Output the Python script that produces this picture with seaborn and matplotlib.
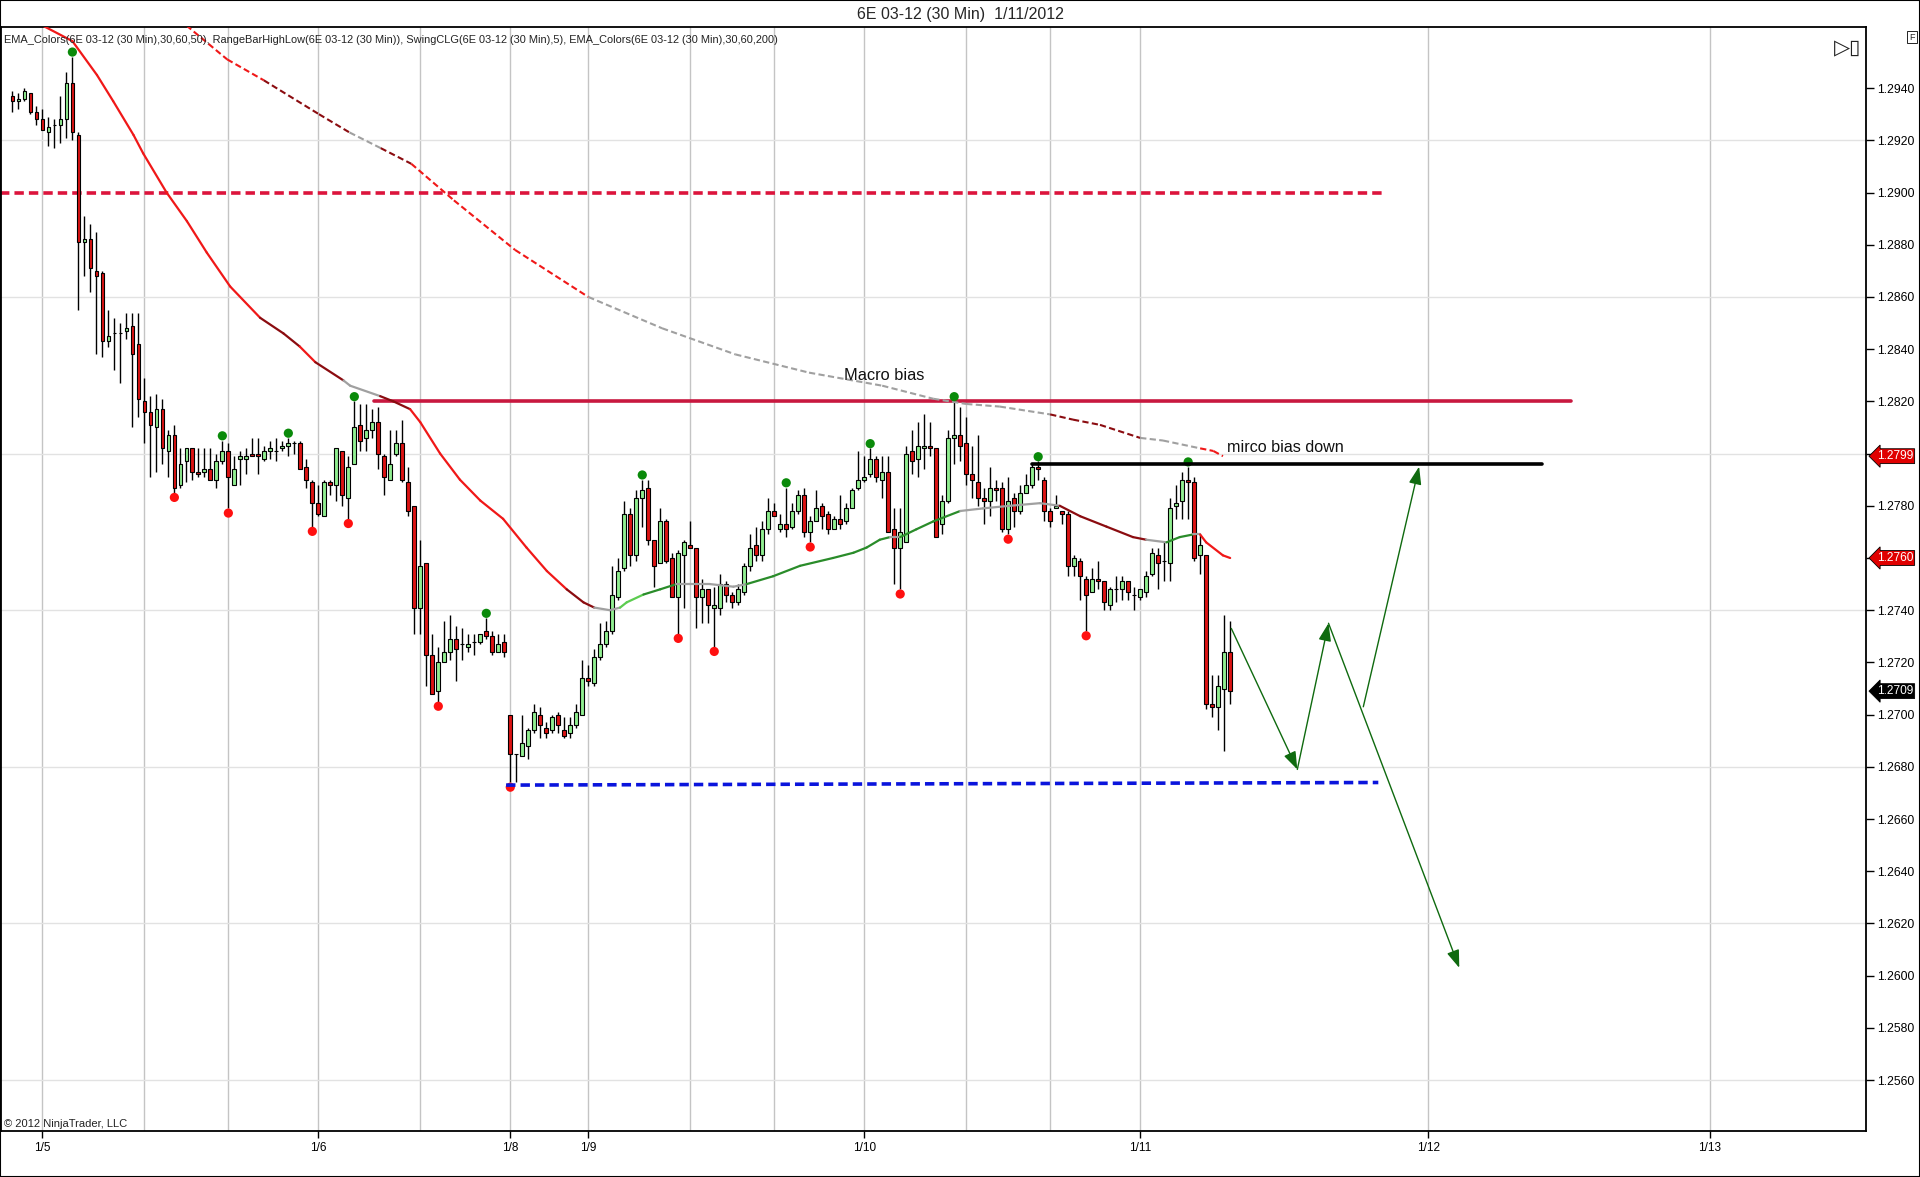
import numpy as np
import pandas as pd
import matplotlib
matplotlib.use("Agg")
import matplotlib.pyplot as plt
import matplotlib.transforms as mtransforms
from matplotlib.collections import LineCollection
import seaborn as sns

# ---- data -------------------------------------------------------------
# x = bar number, 0 = first 30 min bar of 1/5 (session bars only)
bar_idx = list(range(-5, 199))

opens = [
    1.2937, 1.2935, 1.2936, 1.2938, 1.2931, 1.2928, 1.2923, 1.2926, 1.2926, 1.2928,
    1.2942, 1.2922, 1.2881, 1.2882, 1.2870, 1.2869, 1.2843, 1.2846, 1.2846, 1.2847,
    1.2849, 1.2842, 1.2820, 1.2816, 1.2810, 1.2817, 1.2801, 1.2807, 1.2788, 1.2797,
    1.2802, 1.2793, 1.2793, 1.2794, 1.2790, 1.2797, 1.2801, 1.2788, 1.2798, 1.2798,
    1.2800, 1.2800, 1.2798, 1.2801, 1.2801, 1.2802, 1.2803, 1.2804, 1.2804, 1.2795,
    1.2789, 1.2781, 1.2776, 1.2789, 1.2788, 1.2801, 1.2783, 1.2796, 1.2811, 1.2806,
    1.2809, 1.2812, 1.2799, 1.2790, 1.2800, 1.2804, 1.2789, 1.2780, 1.2741, 1.2758,
    1.2723, 1.2709, 1.2720, 1.2724, 1.2729, 1.2727, 1.2726, 1.2728, 1.2728, 1.2732,
    1.2730, 1.2724, 1.2728, 1.2700, 1.2685, 1.2684, 1.2688, 1.2694, 1.2700, 1.2695,
    1.2694, 1.2700, 1.2694, 1.2693, 1.2696, 1.2700, 1.2714, 1.2712, 1.2722, 1.2727,
    1.2732, 1.2745, 1.2756, 1.2777, 1.2761, 1.2783, 1.2787, 1.2767, 1.2758, 1.2774,
    1.2760, 1.2745, 1.2761, 1.2765, 1.2764, 1.2745, 1.2748, 1.2741, 1.2741, 1.2750,
    1.2746, 1.2743, 1.2747, 1.2757, 1.2765, 1.2761, 1.2771, 1.2778, 1.2771, 1.2773,
    1.2772, 1.2778, 1.2784, 1.2770, 1.2774, 1.2780, 1.2777, 1.2771, 1.2775, 1.2774,
    1.2779, 1.2787, 1.2790, 1.2792, 1.2798, 1.2790, 1.2793, 1.2771, 1.2764, 1.2766,
    1.2801, 1.2798, 1.2802, 1.2803, 1.2802, 1.2773, 1.2782, 1.2806, 1.2807, 1.2804,
    1.2792, 1.2789, 1.2783, 1.2782, 1.2787, 1.2787, 1.2771, 1.2783, 1.2778, 1.2785,
    1.2788, 1.2795, 1.2790, 1.2778, 1.2779, 1.2778, 1.2777, 1.2757, 1.2759, 1.2752,
    1.2747, 1.2752, 1.2751, 1.2742, 1.2748, 1.2748, 1.2751, 1.2746, 1.2745, 1.2747,
    1.2754, 1.2761, 1.2759, 1.2758, 1.2780, 1.2782, 1.2790, 1.2789, 1.2761, 1.2761,
    1.2704, 1.2703, 1.2710, 1.2724,
]
highs = [
    1.2939, 1.2938, 1.2940, 1.2938, 1.2933, 1.2932, 1.2929, 1.2928, 1.2937, 1.2946,
    1.2952, 1.2923, 1.2891, 1.2888, 1.2885, 1.2870, 1.2855, 1.2852, 1.2850, 1.2854,
    1.2854, 1.2854, 1.2829, 1.2822, 1.2823, 1.2821, 1.2809, 1.2811, 1.2802, 1.2802,
    1.2802, 1.2802, 1.2802, 1.2802, 1.2800, 1.2805, 1.2804, 1.2799, 1.2801, 1.2802,
    1.2806, 1.2806, 1.2803, 1.2805, 1.2806, 1.2805, 1.2806, 1.2805, 1.2805, 1.2798,
    1.2790, 1.2788, 1.2790, 1.2790, 1.2802, 1.2801, 1.2799, 1.2820, 1.2819, 1.2819,
    1.2817, 1.2818, 1.2800, 1.2809, 1.2809, 1.2813, 1.2795, 1.2780, 1.2767, 1.2758,
    1.2731, 1.2726, 1.2736, 1.2738, 1.2734, 1.2733, 1.2731, 1.2731, 1.2731, 1.2737,
    1.2732, 1.2731, 1.2731, 1.2700, 1.2685, 1.2700, 1.2695, 1.2704, 1.2703, 1.2697,
    1.2700, 1.2701, 1.2699, 1.2699, 1.2704, 1.2721, 1.2719, 1.2725, 1.2735, 1.2736,
    1.2757, 1.2760, 1.2782, 1.2779, 1.2786, 1.2790, 1.2790, 1.2767, 1.2779, 1.2775,
    1.2762, 1.2763, 1.2767, 1.2774, 1.2764, 1.2752, 1.2748, 1.2749, 1.2754, 1.2751,
    1.2747, 1.2750, 1.2758, 1.2769, 1.2772, 1.2774, 1.2783, 1.2781, 1.2777, 1.2787,
    1.2781, 1.2786, 1.2787, 1.2776, 1.2786, 1.2781, 1.2778, 1.2776, 1.2784, 1.2781,
    1.2787, 1.2801, 1.2799, 1.2802, 1.2799, 1.2799, 1.2799, 1.2779, 1.2779, 1.2803,
    1.2809, 1.2812, 1.2815, 1.2812, 1.2802, 1.2784, 1.2809, 1.2820, 1.2818, 1.2814,
    1.2803, 1.2807, 1.2787, 1.2795, 1.2790, 1.2789, 1.2791, 1.2785, 1.2788, 1.2792,
    1.2796, 1.2797, 1.2791, 1.2779, 1.2784, 1.2778, 1.2778, 1.2761, 1.2760, 1.2753,
    1.2756, 1.2759, 1.2751, 1.2749, 1.2753, 1.2753, 1.2751, 1.2749, 1.2748, 1.2755,
    1.2764, 1.2764, 1.2766, 1.2783, 1.2788, 1.2793, 1.2795, 1.2791, 1.2769, 1.2761,
    1.2715, 1.2715, 1.2738, 1.2736,
]
lows = [
    1.2931, 1.2932, 1.2935, 1.2930, 1.2926, 1.2924, 1.2918, 1.2917, 1.2919, 1.2921,
    1.2920, 1.2855, 1.2868, 1.2862, 1.2838, 1.2837, 1.2841, 1.2832, 1.2827, 1.2844,
    1.2810, 1.2814, 1.2804, 1.2791, 1.2793, 1.2796, 1.2791, 1.2785, 1.2787, 1.2789,
    1.2790, 1.2791, 1.2791, 1.2790, 1.2787, 1.2796, 1.2779, 1.2788, 1.2788, 1.2792,
    1.2799, 1.2792, 1.2797, 1.2798, 1.2797, 1.2801, 1.2799, 1.2800, 1.2794, 1.2787,
    1.2772, 1.2776, 1.2776, 1.2784, 1.2782, 1.2780, 1.2775, 1.2796, 1.2801, 1.2801,
    1.2806, 1.2794, 1.2784, 1.2790, 1.2799, 1.2789, 1.2776, 1.2731, 1.2731, 1.2711,
    1.2708, 1.2705, 1.2720, 1.2721, 1.2713, 1.2721, 1.2724, 1.2723, 1.2727, 1.2729,
    1.2723, 1.2724, 1.2722, 1.2674, 1.2674, 1.2684, 1.2683, 1.2693, 1.2691, 1.2691,
    1.2693, 1.2693, 1.2691, 1.2691, 1.2695, 1.2700, 1.2711, 1.2711, 1.2721, 1.2726,
    1.2731, 1.2744, 1.2755, 1.2757, 1.2759, 1.2772, 1.2765, 1.2749, 1.2758, 1.2758,
    1.2745, 1.2731, 1.2741, 1.2764, 1.2733, 1.2735, 1.2735, 1.2726, 1.2738, 1.2743,
    1.2741, 1.2742, 1.2746, 1.2755, 1.2759, 1.2759, 1.2769, 1.2776, 1.2770, 1.2768,
    1.2771, 1.2777, 1.2768, 1.2766, 1.2774, 1.2771, 1.2769, 1.2771, 1.2771, 1.2773,
    1.2779, 1.2786, 1.2789, 1.2791, 1.2789, 1.2783, 1.2770, 1.2750, 1.2748, 1.2766,
    1.2792, 1.2791, 1.2794, 1.2799, 1.2768, 1.2769, 1.2781, 1.2796, 1.2797, 1.2788,
    1.2783, 1.2780, 1.2773, 1.2776, 1.2782, 1.2770, 1.2769, 1.2772, 1.2777, 1.2785,
    1.2787, 1.2790, 1.2774, 1.2772, 1.2779, 1.2773, 1.2753, 1.2753, 1.2744, 1.2732,
    1.2747, 1.2748, 1.2740, 1.2740, 1.2743, 1.2744, 1.2744, 1.2740, 1.2744, 1.2745,
    1.2753, 1.2748, 1.2751, 1.2751, 1.2775, 1.2775, 1.2775, 1.2759, 1.2754, 1.2702,
    1.2699, 1.2694, 1.2686, 1.2704,
]
closes = [
    1.2935, 1.2936, 1.2939, 1.2931, 1.2928, 1.2924, 1.2925, 1.2926, 1.2928, 1.2942,
    1.2923, 1.2881, 1.2882, 1.2871, 1.2868, 1.2843, 1.2845, 1.2846, 1.2846, 1.2848,
    1.2838, 1.2821, 1.2816, 1.2811, 1.2817, 1.2802, 1.2807, 1.2787, 1.2796, 1.2802,
    1.2793, 1.2792, 1.2794, 1.2790, 1.2797, 1.2801, 1.2791, 1.2794, 1.2799, 1.2799,
    1.2799, 1.2799, 1.2801, 1.2802, 1.2801, 1.2803, 1.2804, 1.2804, 1.2794, 1.2790,
    1.2781, 1.2777, 1.2789, 1.2788, 1.2802, 1.2784, 1.2795, 1.2810, 1.2805, 1.2809,
    1.2812, 1.2800, 1.2791, 1.2796, 1.2804, 1.2790, 1.2778, 1.2741, 1.2757, 1.2723,
    1.2708, 1.2720, 1.2724, 1.2729, 1.2725, 1.2727, 1.2727, 1.2728, 1.2731, 1.2730,
    1.2724, 1.2727, 1.2724, 1.2685, 1.2685, 1.2689, 1.2694, 1.2701, 1.2696, 1.2693,
    1.2699, 1.2696, 1.2692, 1.2696, 1.2701, 1.2714, 1.2713, 1.2722, 1.2727, 1.2732,
    1.2746, 1.2755, 1.2777, 1.2761, 1.2783, 1.2786, 1.2767, 1.2757, 1.2774, 1.2759,
    1.2745, 1.2762, 1.2766, 1.2764, 1.2745, 1.2748, 1.2742, 1.2742, 1.2750, 1.2746,
    1.2743, 1.2748, 1.2757, 1.2764, 1.2761, 1.2771, 1.2778, 1.2776, 1.2773, 1.2771,
    1.2778, 1.2784, 1.2770, 1.2774, 1.2779, 1.2776, 1.2771, 1.2775, 1.2773, 1.2779,
    1.2786, 1.2790, 1.2791, 1.2798, 1.2791, 1.2793, 1.2770, 1.2764, 1.2770, 1.2800,
    1.2797, 1.2803, 1.2803, 1.2802, 1.2768, 1.2782, 1.2806, 1.2807, 1.2803, 1.2792,
    1.2790, 1.2783, 1.2782, 1.2787, 1.2786, 1.2771, 1.2782, 1.2778, 1.2785, 1.2788,
    1.2795, 1.2794, 1.2778, 1.2774, 1.2780, 1.2777, 1.2757, 1.2760, 1.2753, 1.2746,
    1.2752, 1.2751, 1.2743, 1.2748, 1.2748, 1.2751, 1.2747, 1.2746, 1.2748, 1.2753,
    1.2762, 1.2758, 1.2759, 1.2779, 1.2781, 1.2790, 1.2789, 1.2760, 1.2765, 1.2704,
    1.2703, 1.2711, 1.2724, 1.2709,
]

# swing points (SwingCLG), given as bar numbers
swing_high_bars = [5, 30, 41, 52, 74, 100, 124, 138, 152, 166, 191]
swing_low_bars = [22, 31, 45, 51, 66, 78, 106, 112, 128, 143, 161, 174]

# EMA 50; colour code per segment
# r = falling steep, d = falling, g = flat, G = rising, L = rising steep
ema50_x = [0, 5.0, 9.1, 11.8, 15.2, 16.8, 20.7, 24.1, 27.4, 31.3,
           36.3, 40.2, 42.9, 45.5, 50.2, 51.3, 56.3, 58.5, 61.3, 63.0,
           66.3, 69.6, 73.0, 76.8, 80.7, 84.1, 87.4, 90.2, 92.0, 94.6,
           96.3, 97.4, 100.2, 103.0, 105.7, 108.0, 111.3, 115.2, 117.4, 121.8,
           126.3, 131.8, 135.2, 137.4, 139.6, 141.3, 143.0, 145.7, 148.5, 153.0,
           156.8, 161.3, 166.3, 169.6, 173.0, 177.4, 181.8, 184.0, 187.4, 189.6,
           191.8, 193.0, 194.0, 196.8, 198.0]
ema50_y = [1.2964, 1.2958, 1.2945, 1.2935, 1.2922, 1.2915, 1.2900, 1.2889, 1.2877, 1.2864,
           1.2852, 1.2846, 1.2841, 1.2835, 1.2828, 1.2826, 1.2822, 1.2820, 1.2817, 1.2812,
           1.2800, 1.2790, 1.2782, 1.2775, 1.2764, 1.2755, 1.2748, 1.2743, 1.2741, 1.2740,
           1.2741, 1.2743, 1.2746, 1.2748, 1.2750, 1.2750, 1.2750, 1.2749, 1.2750, 1.2753,
           1.2757, 1.2760, 1.2762, 1.2764, 1.2767, 1.2768, 1.2768, 1.2771, 1.2774, 1.2778,
           1.2779, 1.2780, 1.2781, 1.2780, 1.2776, 1.2772, 1.2768, 1.2767, 1.2766, 1.2768,
           1.2769, 1.2769, 1.2766, 1.2761, 1.2760]
ema50_c = "rrrrrrrrrr" "ddrdggddrr" "rrrrrrddgg" "LLGGggggGG" "GGGGGgGGGg" "gggddddgGG" "grrr"

# EMA 200 (dashed)
ema200_x = [24.0, 30.8, 36.9, 46.1, 51.2, 56.4, 61.5, 68.6, 78.8, 91.0,
            103.3, 115.5, 127.8, 140.0, 148.5, 154.0, 159.6, 168.0, 171.8, 176.3,
            183.0, 186.8, 193.0, 195.2, 196.8]
ema200_y = [1.2964, 1.2951, 1.2943, 1.2930, 1.2923, 1.2917, 1.2911, 1.2897, 1.2878, 1.2860,
            1.2848, 1.2838, 1.2831, 1.2826, 1.2821, 1.2819, 1.2818, 1.2815, 1.2813, 1.2811,
            1.2806, 1.2805, 1.2802, 1.2801, 1.2799]
ema200_c = "rrddgdrrr" "gggggggg" "ddd" "gg" "rr"

# drawn levels: (price at start, price at end, first bar, last bar)
level_1290 = (1.2900, 1.2900, -7, 223.7)
level_1282 = (1.2820, 1.2820, 55.3, 254.9)
level_black = (1.2796, 1.2796, 165.0, 250.0)
level_blue = (1.2673, 1.2674, 77.3, 222.7)

# projection arrows
arrow_x0 = [198.2, 209.2, 214.4, 220.2]
arrow_y0 = [1.2733, 1.2679, 1.2735, 1.2703]
arrow_x1 = [209.2, 214.4, 236.2, 229.5]
arrow_y1 = [1.2679, 1.2735, 1.2603, 1.2795]

date_ticks = [0, 46, 78, 91, 137, 183, 231, 278]
date_labels = ["1/5", "1/6", "1/8", "1/9", "1/10", "1/11", "1/12", "1/13"]
session_lines = [0, 17, 31, 46, 63, 78, 91, 108, 122, 137, 154, 168, 183, 231, 278]

# ---- plot -------------------------------------------------------------
sns.set_theme(style="white")
plt.rcParams["font.family"] = ["Liberation Sans", "DejaVu Sans"]

fig = plt.figure(figsize=(19.2, 11.77), dpi=100)
fig.patch.set_facecolor("white")
ax = fig.add_axes([1 / 1920, 1 - 1131 / 1177, 1865 / 1920, 1104 / 1177])
ax.set_facecolor("white")

ax.set_xlim(-6.9, 304)
ax.set_ylim(1.25405, 1.29634)

for v in session_lines:
    ax.axvline(v, color="#c4c4c4", lw=1, zorder=0)
for h in np.arange(1.2560, 1.2930, 0.0060):
    ax.axhline(h, color="#e2e2e2", lw=1, zorder=0)

df = pd.DataFrame({"x": bar_idx, "open": opens, "high": highs, "low": lows, "close": closes})
up = df["close"] >= df["open"]

ax.vlines(df["x"], df["low"], df["high"], color="black", lw=1, zorder=3)
ax.bar(df["x"][up], (df["close"] - df["open"])[up], bottom=df["open"][up], width=0.62,
       color="#90ee90", edgecolor="black", linewidth=0.8, zorder=4)
ax.bar(df["x"][~up], (df["close"] - df["open"])[~up], bottom=df["open"][~up], width=0.62,
       color="#dc1414", edgecolor="black", linewidth=0.8, zorder=4)

ema_cols = {"r": "#f01818", "d": "#8b0c10", "g": "#a0a0a0", "G": "#2a8c2a", "L": "#5ccc50"}


def ema_segments(xs, ys):
    pts = np.column_stack([xs, ys])
    return np.stack([pts[:-1], pts[1:]], axis=1)


lc50 = LineCollection(ema_segments(ema50_x, ema50_y), colors=[ema_cols[c] for c in ema50_c],
                      linewidths=1.6, zorder=5, capstyle="round")
ax.add_collection(lc50)
lc200 = LineCollection(ema_segments(ema200_x, ema200_y), colors=[ema_cols[c] for c in ema200_c],
                       linewidths=1.5, linestyles=(0, (3, 1.6)), zorder=5)
ax.add_collection(lc200)

# swing dots
sh = df.set_index("x").loc[swing_high_bars]
sl = df.set_index("x").loc[swing_low_bars]
sns.scatterplot(x=sh.index, y=sh["high"] + 0.00018, color="#0a8a0a", s=44, marker="o",
                edgecolor="none", ax=ax, zorder=6)
sns.scatterplot(x=sl.index, y=sl["low"] - 0.00018, color="#ff1010", s=44, marker="o",
                edgecolor="none", ax=ax, zorder=6)
ax.set_xlabel("")
ax.set_ylabel("")

# horizontal levels
ax.plot(level_1290[2:], level_1290[:2], color="#dc143c", lw=2.6, ls=(0, (2.6, 1.4)), zorder=2)
ax.plot(level_1282[2:], level_1282[:2], color="#c8183f", lw=2.6, zorder=2)
ax.plot(level_black[2:], level_black[:2], color="black", lw=2.6, zorder=7)
ax.plot(level_blue[2:], level_blue[:2], color="#0a14dc", lw=2.6, ls=(0, (2.6, 1.4)), zorder=7)

for x0, y0, x1, y1 in zip(arrow_x0, arrow_y0, arrow_x1, arrow_y1):
    ax.annotate("", xy=(x1, y1), xytext=(x0, y0),
                arrowprops=dict(arrowstyle="-|>,head_length=0.9,head_width=0.32",
                                color="#0f6a0f", lw=1.0, shrinkA=0, shrinkB=0), zorder=8)

ax.text(133.6, 1.2830, "Macro bias", fontsize=11.8, ha="left", va="center", color="#111111", zorder=9)
ax.text(197.4, 1.28025, "mirco bias down", fontsize=11.6, ha="left", va="center", color="#111111", zorder=9)

ax.text(0.0015, 0.9885,
        "EMA_Colors(6E 03-12 (30 Min),30,60,50), RangeBarHighLow(6E 03-12 (30 Min)), "
        "SwingCLG(6E 03-12 (30 Min),5), EMA_Colors(6E 03-12 (30 Min),30,60,200)",
        transform=ax.transAxes, fontsize=7.9, ha="left", va="center", color="#222222", zorder=9)
ax.text(0.0015, 0.0015, "\u00a9 2012 NinjaTrader, LLC", transform=ax.transAxes,
        fontsize=8, ha="left", va="bottom", color="#222222", zorder=9)

# axes styling
for s in ax.spines.values():
    s.set_visible(True)
    s.set_color("black")
    s.set_linewidth(1.3)
ax.yaxis.tick_right()
ax.set_yticks(np.arange(1.2560, 1.29401, 0.0020))
ax.set_yticklabels([f"{v:.4f}" for v in np.arange(1.2560, 1.29401, 0.0020)])
ax.tick_params(axis="y", which="both", direction="out", length=6, width=1, pad=2,
               labelsize=8.8, colors="black", right=True, left=False)
ax.set_xticks(date_ticks)
ax.set_xticklabels(date_labels)
ax.tick_params(axis="x", direction="out", length=5, width=1, pad=3, labelsize=8.5,
               colors="black", bottom=True)
ax.grid(False)

# price tags on the axis
trans = mtransforms.blended_transform_factory(ax.transAxes, ax.transData)
tag_values = [ema200_y[-1], ema50_y[-1], closes[-1]]
tag_colors = ["#e00000", "#e00000", "black"]
for val, fc in zip(tag_values, tag_colors):
    ax.text(1.0058, val, f"{val:.4f}", transform=trans, ha="left", va="center", fontsize=8.6,
            color="white", clip_on=False, zorder=10,
            bbox=dict(boxstyle="larrow,pad=0.12", fc=fc, ec="black", lw=0.6))

fig.text(0.5, 1 - 15 / 1177, "6E 03-12 (30 Min)  1/11/2012", ha="center", va="center", fontsize=11.5)
fig.text(1848 / 1920, 1 - 48 / 1177, "\u25b7\u25af", ha="center", va="center", fontsize=15,
         family=["DejaVu Sans"], color="#222222")
fig.text(1912 / 1920, 1 - 37 / 1177, "F", ha="center", va="center", fontsize=6.5,
         bbox=dict(boxstyle="square,pad=0.2", fc="white", ec="black", lw=0.6))
fig.patches.append(plt.Rectangle((0, 0), 1, 1, transform=fig.transFigure, fill=False,
                                 ec="black", lw=1.5))

fig.savefig("out.png", dpi=100)
